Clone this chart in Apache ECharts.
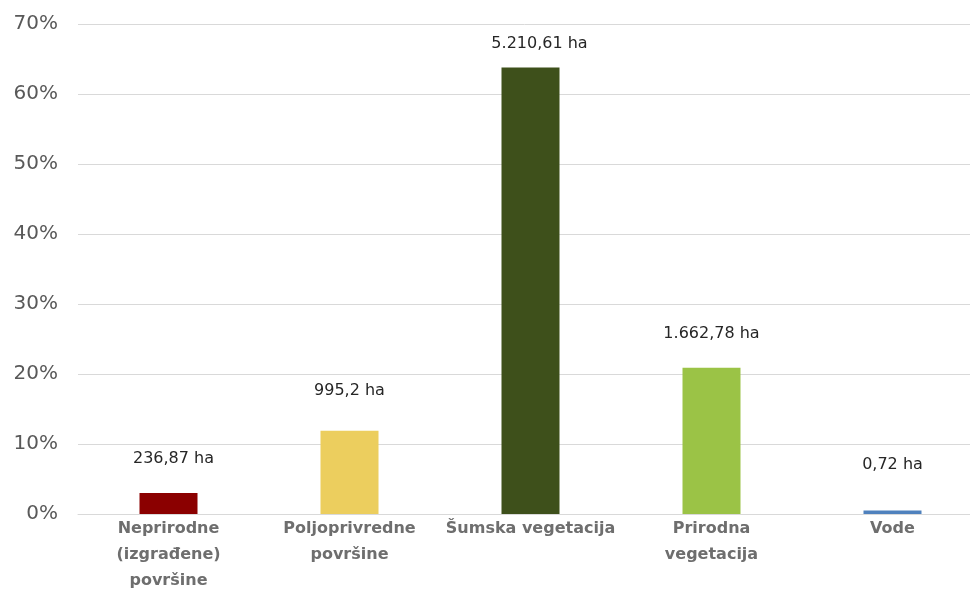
<!DOCTYPE html>
<html>
<head>
<meta charset="utf-8">
<script src="https://cdn.jsdelivr.net/npm/echarts@6/dist/echarts.min.js"></script>
<style>
  html, body { margin: 0; padding: 0; background: #fff; }
  #c1 { width: 970px; height: 590px; }
</style>
</head>
<body>
<div id="c1"></div>
<script>
// categories and values
var kategorije = [
  "Neprirodne\n(izgrađene)\npovršine",
  "Poljoprivredne\npovršine",
  "Šumska vegetacija",
  "Prirodna\nvegetacija",
  "Vode"
];
var udio = [3.0, 11.9, 63.8, 20.9, 0.5];
var povrsina = ["236,87 ha", "995,2 ha", "5.210,61 ha", "1.662,78 ha", "0,72 ha"];
var yTicks = [0, 10, 20, 30, 40, 50, 60, 70];

// styles
var boje = ["#8b0000", "#ecce5e", "#3e501b", "#9bc346", "#4f81bd"];
var labelGap = [26, 32, 16, 26, 38];
var labelShift = [5, 0, 9, 0, 0];

var chartDom = document.getElementById("c1");
var myChart = echarts.init(chartDom);
var option;

var podaci = udio.map(function (v, i) {
  return {
    value: v,
    itemStyle: { color: boje[i] },
    label: { distance: labelGap[i], offset: [labelShift[i], 0] }
  };
});

option = {
  animation: false,
  grid: {
    left: 78,
    top: 24,
    bottom: 76,
    width: 905,
    containLabel: false,
    outerBoundsMode: "none"
  },
  xAxis: {
    type: "category",
    data: kategorije,
    axisTick: { show: false },
    axisLine: { lineStyle: { color: "#d9d9d9", width: 1 } },
    axisLabel: {
      color: "#6e6e6e",
      fontFamily: "DejaVu Sans",
      fontWeight: "bold",
      fontSize: 16,
      lineHeight: 26,
      margin: 2,
      interval: 0
    }
  },
  yAxis: {
    type: "value",
    min: yTicks[0],
    max: yTicks[yTicks.length - 1],
    interval: 10,
    axisLine: { show: false },
    axisTick: { show: false },
    splitLine: { lineStyle: { color: "#d9d9d9", width: 1 } },
    axisLabel: {
      color: "#595959",
      fontFamily: "DejaVu Sans",
      fontSize: 20,
      margin: 20,
      formatter: "{value}%"
    }
  },
  series: [
    {
      type: "bar",
      data: podaci,
      barWidth: 58,
      label: {
        show: true,
        position: "top",
        color: "#262626",
        fontFamily: "DejaVu Sans",
        fontSize: 16,
        formatter: function (params) {
          return povrsina[params.dataIndex];
        }
      }
    }
  ]
};
myChart.setOption(option);
</script>
</body>
</html>
